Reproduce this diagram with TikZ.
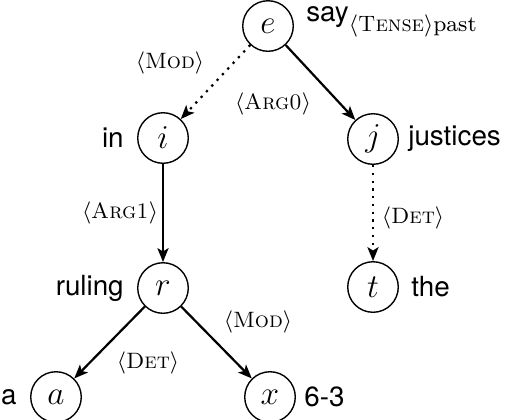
\documentclass[tikz,border=0pt]{standalone}
\usepackage{fontspec}
\setsansfont{TeX Gyre Heros}
\usetikzlibrary{arrows.meta}
\begin{document}
\begin{tikzpicture}[x=0.36pt,y=-0.36pt,
  var/.style={circle,draw,line width=0.5pt,minimum size=18.2pt,inner sep=0pt,font=\large},
  word/.style={font=\sffamily\normalsize,inner sep=1pt},
  rel/.style={font=\footnotesize,inner sep=1pt},
  solidarr/.style={line width=0.8pt,-{Stealth[length=5pt,width=4pt,inset=1.2pt]}},
  dotarr/.style={line width=0.8pt,dotted,-{Stealth[length=5pt,width=4pt,inset=1.2pt]}}]
\useasboundingbox (0,0) rectangle (505,419);
\node[var] (e) at (268,26) {$e$};
\node[var] (i) at (163,138) {$i$};
\node[var] (j) at (373,139) {$j$};
\node[var] (r) at (163,288) {$r$};
\node[var] (t) at (373,287) {$t$};
\node[var] (a) at (56,397) {$a$};
\node[var] (x) at (270,397) {$x$};
\node[word,anchor=west] (we) at (303,22) {say\raisebox{-3.5pt}{\rmfamily\footnotesize$\langle$\textsc{Tense}$\rangle$past}};
\node[word,anchor=east] (wi) at (127,138) {in};
\node[word,anchor=west] (wj) at (405,139) {justices};
\node[word,anchor=east] (wr) at (127,288) {ruling};
\node[word,anchor=west] (wt) at (408,287) {the};
\node[word,anchor=east] (wa) at (20,397) {a};
\node[word,anchor=west] (wx) at (301,397) {6-3};
\draw[dotarr] (e) -- (i);
\draw[solidarr] (e) -- (j);
\draw[solidarr] (i) -- (r);
\draw[dotarr] (j) -- (t);
\draw[solidarr] (r) -- (a);
\draw[solidarr] (r) -- (x);
\node[rel] (l1) at (170,63) {$\langle$\textsc{Mod}$\rangle$};
\node[rel] (l2) at (273,104) {$\langle$\textsc{Arg0}$\rangle$};
\node[rel] (l3) at (120,213) {$\langle$\textsc{Arg1}$\rangle$};
\node[rel] (l4) at (413,218) {$\langle$\textsc{Det}$\rangle$};
\node[rel] (l5) at (258,322) {$\langle$\textsc{Mod}$\rangle$};
\node[rel] (l6) at (148,363) {$\langle$\textsc{Det}$\rangle$};
\end{tikzpicture}
\end{document}
